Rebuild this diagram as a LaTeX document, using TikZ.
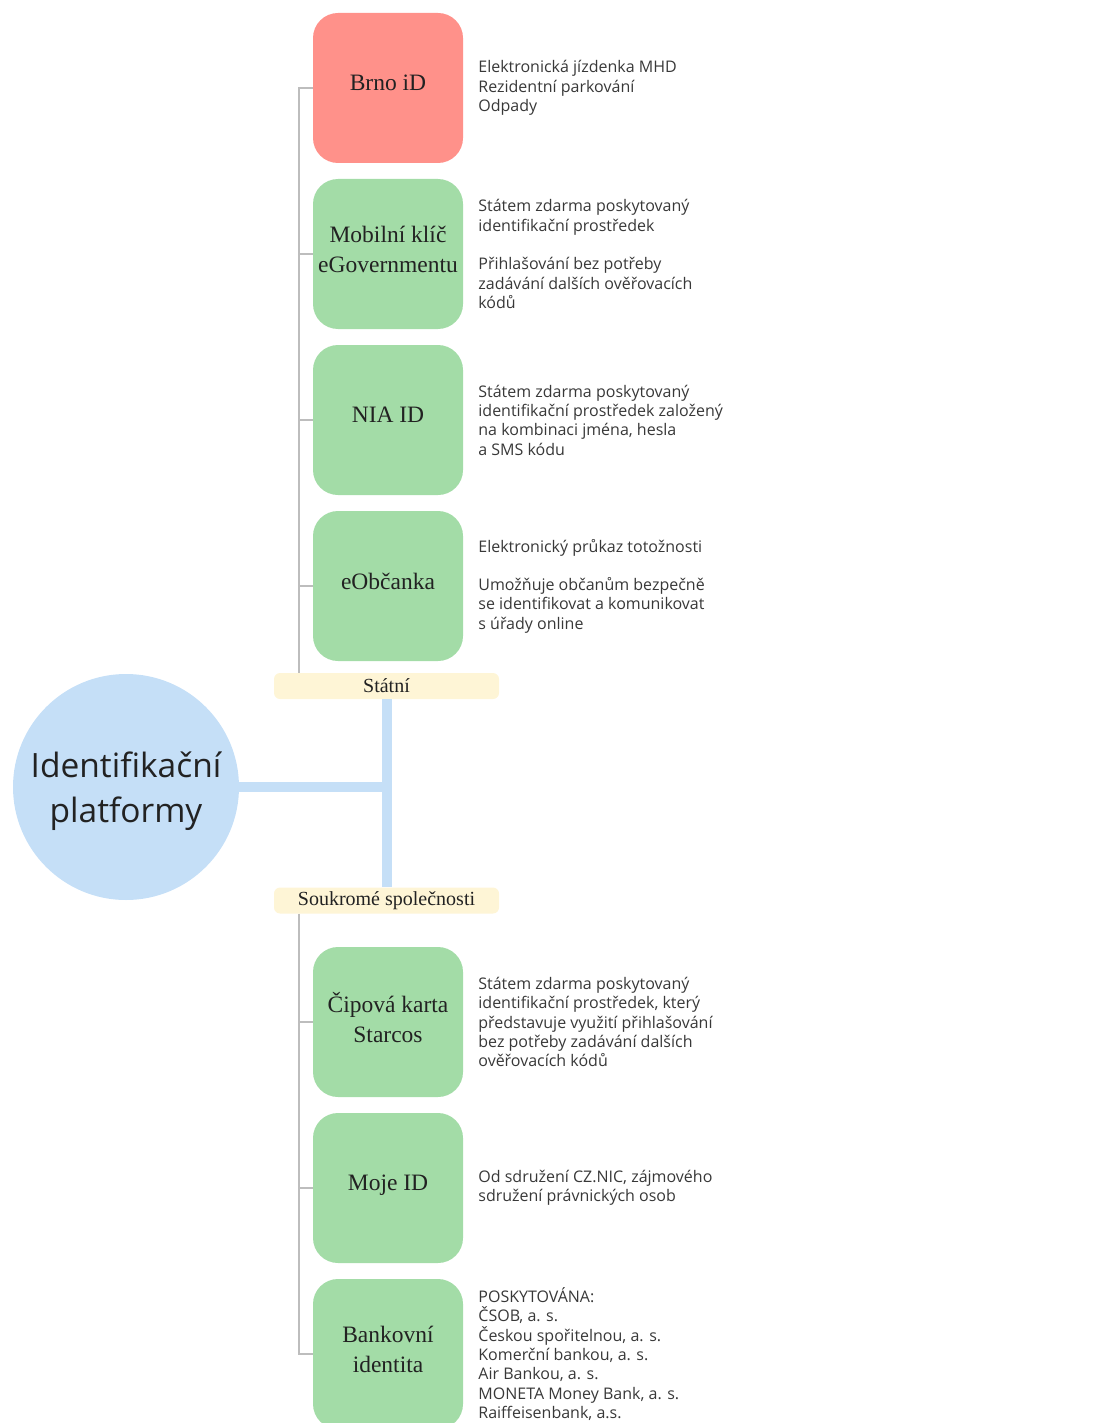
\documentclass[tikz,border=0pt]{standalone}
\usepackage{fontspec}
\setmainfont{Liberation Serif}
\newfontfamily\descfont{Open Sans}
\usetikzlibrary{positioning, calc}

\definecolor{brnored}{HTML}{FF918A}
\definecolor{idgreen}{HTML}{A3DCA7}
\definecolor{hubblue}{HTML}{C5DFF7}
\definecolor{grpyellow}{HTML}{FEF5D6}
\definecolor{twiggray}{HTML}{BDBDBD}
\definecolor{inktext}{HTML}{222222}

\begin{document}
\begin{tikzpicture}[
    x = 1pt, y = -1pt,
    platbox/.style = {
      rectangle, rounded corners = 25pt,
      minimum width = 150pt, minimum height = 150pt,
      align = center, text = inktext, fill = idgreen,
      text depth = 10pt,
      font = \fontsize{23.5}{30}\selectfont
    },
    grplabel/.style = {
      rectangle, rounded corners = 6pt, fill = grpyellow,
      minimum width = 225pt, minimum height = 26pt,
      inner sep = 0pt, text = inktext,
      font = \fontsize{20}{22}\selectfont
    },
    desc/.style = {
      anchor = west, align = left, inner sep = 0pt,
      text = inktext!90, font = \descfont\fontsize{16}{19.3}\selectfont
    },
    hub/.style = {
      circle, fill = hubblue, minimum size = 226pt, inner sep = 0pt,
      align = center, text = inktext, text depth = 0pt,
      font = \descfont\fontsize{33.5}{45}\selectfont
    },
    twig/.style = {draw = twiggray, line width = 1.5pt},
    trunk/.style = {draw = hubblue, line width = 10pt}
  ]

  \useasboundingbox (0,0) rectangle (1097,1423);

  % ---- stred: Identifikacni platformy ----
  \node[hub] (hub) at (126,787) {Identifikační\\platformy};

  % ---- skupiny ----
  \node[grplabel] (statni)    at (386.5,686) {Státní};
  \node[grplabel] (soukrome)  at (386.5,900.5) {Soukromé společnosti};

  \draw[trunk] (hub.east) -- (hub.east -| statni.south);
  \draw[trunk] (statni.south) -- (soukrome.north);

  \coordinate (trunkx) at (299,0);

  % ---- Statni platformy ----
  \node[platbox, fill = brnored] (brno) at (388,88)  {Brno iD};
  \node[platbox] (mobil) at (388,254) {Mobilní klíč\\eGovernmentu};
  \node[platbox] (nia)   at (388,420) {NIA ID};
  \node[platbox] (eop)   at (388,586) {eObčanka};

  \node[desc, right = 15pt of brno] (brnotxt)
    {Elektronická jízdenka MHD\\Rezidentní parkování\\Odpady};
  \node[desc, right = 15pt of mobil] (mobiltxt)
    {Státem zdarma poskytovaný\\identifikační prostředek\\[19.3pt]
     Přihlašování bez potřeby\\zadávání dalších ověřovacích\\kódů};
  \node[desc, right = 15pt of nia] (niatxt)
    {Státem zdarma poskytovaný\\identifikační prostředek založený\\na kombinaci jména, hesla\\a SMS kódu};
  \node[desc, right = 15pt of eop] (eoptxt)
    {Elektronický průkaz totožnosti\\[19.3pt]
     Umožňuje občanům bezpečně\\se identifikovat a komunikovat\\s úřady online};

  % vetve statni
  \draw[twig] (statni.north -| trunkx) |- (brno.west);
  \draw[twig] (mobil.west) -- (mobil.west -| trunkx);
  \draw[twig] (nia.west)   -- (nia.west -| trunkx);
  \draw[twig] (eop.west)   -- (eop.west -| trunkx);

  % ---- Soukrome spolecnosti ----
  \node[platbox] (cip)  at (388,1022) {Čipová karta\\Starcos};
  \node[platbox] (moje) at (388,1188) {Moje ID};
  \node[platbox] (bank) at (388,1354) {Bankovní\\identita};

  \node[desc, right = 15pt of cip] (ciptxt)
    {Státem zdarma poskytovaný\\identifikační prostředek, který\\představuje využití přihlašování\\bez potřeby zadávání dalších\\ověřovacích kódů};
  \node[desc, right = 15pt of moje] (mojetxt)
    {Od sdružení CZ.NIC, zájmového\\sdružení právnických osob};
  \node[desc, right = 15pt of bank] (banktxt)
    {POSKYTOVÁNA:\\ČSOB, a. s.\\Českou spořitelnou, a. s.\\Komerční bankou, a. s.\\Air Bankou, a. s.\\MONETA Money Bank, a. s.\\Raiffeisenbank, a.s.};

  % vetve soukrome
  \draw[twig] (soukrome.south -| trunkx) |- (bank.west);
  \draw[twig] (cip.west)  -- (cip.west -| trunkx);
  \draw[twig] (moje.west) -- (moje.west -| trunkx);

\end{tikzpicture}
\end{document}
